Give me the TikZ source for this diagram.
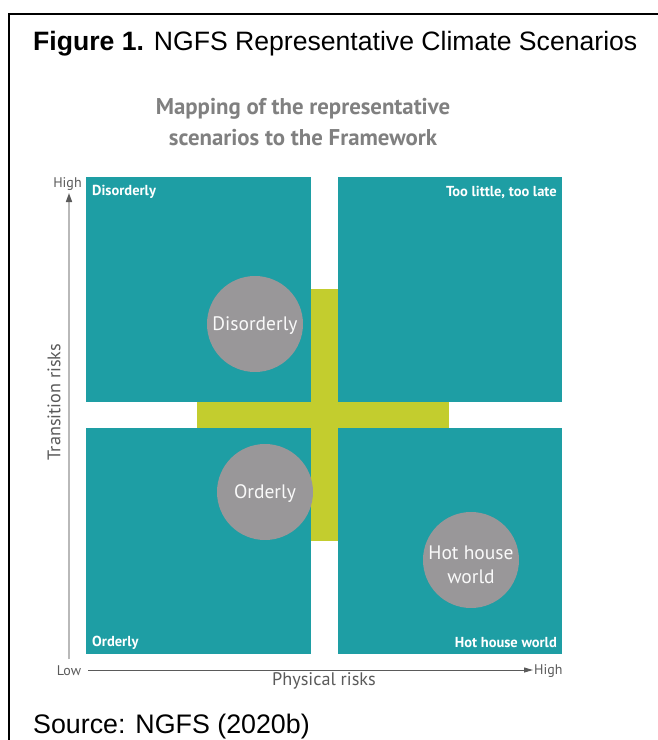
\documentclass[tikz,border=0pt]{standalone}
\usepackage{fontspec}
\setmainfont{Liberation Sans}
\newfontfamily\diag{PT Sans}
\usetikzlibrary{arrows.meta}
\definecolor{teal1}{RGB}{30,158,164}
\definecolor{lime1}{RGB}{195,205,46}
\definecolor{circ}{RGB}{153,151,153}
\definecolor{subgray}{RGB}{128,128,128}
\definecolor{axgray}{RGB}{90,90,90}
\definecolor{axlight}{RGB}{185,185,185}
\tikzset{
  quad/.style={fill=teal1, draw=none},
  bar/.style={fill=lime1, draw=none},
  scen/.style={circle, fill=circ, minimum size=96pt, inner sep=0pt},
  scentext/.style={inner sep=0pt, text=white!95!gray, font=\diag\fontsize{19.5}{24}\selectfont, align=center},
  qlabel/.style={text=white, font=\diag\bfseries\fontsize{14.5}{16}\selectfont, inner sep=0pt},
  axlab/.style={text=axgray, font=\diag\fontsize{18.2}{21}\selectfont, inner sep=0pt},
  ticklab/.style={text=axgray, font=\diag\fontsize{14}{16}\selectfont, inner sep=0pt},
}
\begin{document}
\begin{tikzpicture}[x=1pt,y=-1pt]
\useasboundingbox (0,0) rectangle (658,740);
\fill[white] (0,0) rectangle (658,740);
% frame
\draw[line width=2pt] (9,740) -- (9,14) -- (658,14);
% title
\node[anchor=base west, inner sep=0pt, font=\fontsize{26.6}{30}\selectfont] (title) at (33,50) {\textbf{Figure 1.} NGFS Representative Climate Scenarios};
\node[anchor=base west, inner sep=0pt, font=\fontsize{26.8}{30}\selectfont] (source) at (33,733) {Source: NGFS (2020b)};
% subtitle
\node[text=subgray, font=\diag\bfseries\fontsize{22.8}{31}\selectfont, align=center, inner sep=0pt] (sub) at (303,122.5) {Mapping of the representative\\scenarios to the Framework};
% green cross
\fill[bar] (311,289) rectangle (338,541);
\fill[bar] (197,402) rectangle (449,428);
% quadrants
\fill[quad] (86,177) rectangle (311,402);
\fill[quad] (338,177) rectangle (562,402);
\fill[quad] (86,428) rectangle (311,654);
\fill[quad] (338,428) rectangle (562,654);
% quadrant labels
\node[qlabel, anchor=west] (qtl) at (92,192) {Disorderly};
\node[qlabel, anchor=east] (qtr) at (557,192) {Too little, too late};
\node[qlabel, anchor=west] (qbl) at (92,643) {Orderly};
\node[qlabel, anchor=east] (qbr) at (557,643) {Hot house world};
% scenario circles
\node[scen] (cdis) at (255,324) {};
\node[scen] (cord) at (265,492) {};
\node[scen] (chot) at (471,560) {};
\node[scentext] (tdis) at (255,325.5) {Disorderly};
\node[scentext] (tord) at (265,493.5) {Orderly};
\node[scentext] (thot) at (471,565) {Hot house\\world};
% axes
\node[ticklab] (vhigh) at (67.5,184) {High};
\node[ticklab] (vlow) at (69,671) {Low};
\node[ticklab, anchor=west] (hhigh) at (534,671) {High};
\coordinate (vbot) at (69,659);
\coordinate (vtop) at (69,193);
\coordinate (hleft) at (88,670);
\coordinate (hright) at (533,670);
\draw[axlight, line width=1.6pt, -{Triangle[length=9pt,width=6pt,color=axgray]}] (vbot) -- (vtop);
\draw[axgray, line width=1pt, -{Triangle[length=9pt,width=5pt]}] (hleft) -- (hright);
\node[axlab, rotate=90] (ylab) at (54,402) {Transition risks};
\node[axlab] (xlab) at (324,681) {Physical risks};
\end{tikzpicture}
\end{document}
